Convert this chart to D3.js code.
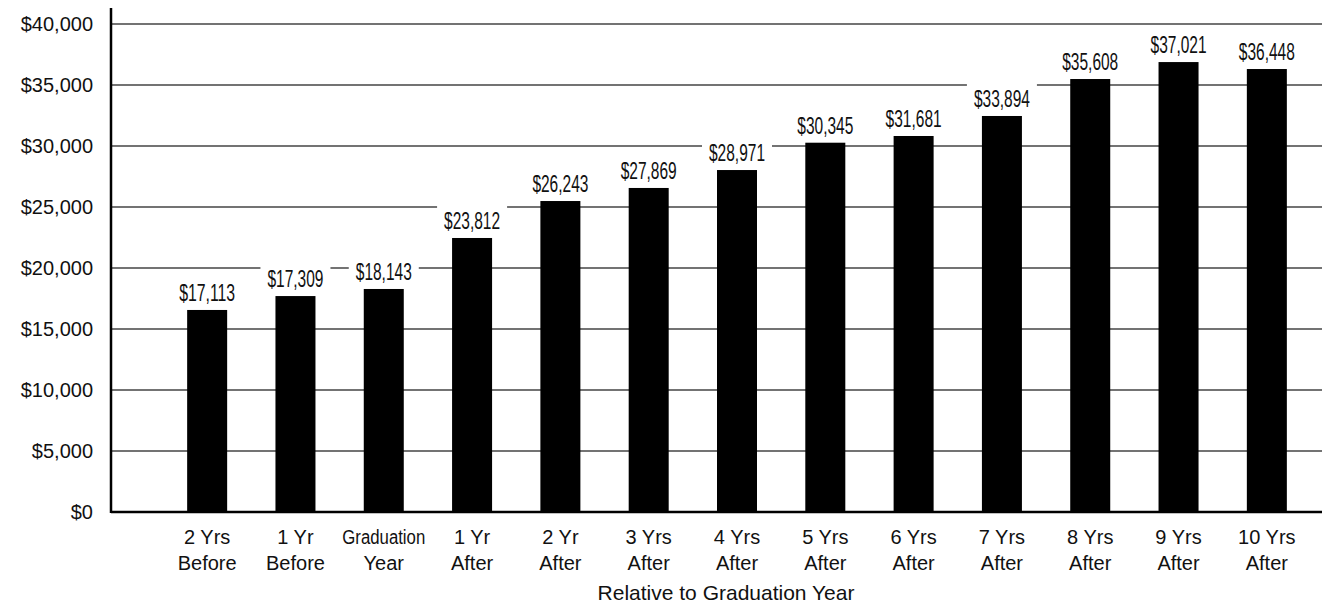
<!DOCTYPE html>
<html>
<head>
<meta charset="utf-8">
<script src="https://cdnjs.cloudflare.com/ajax/libs/d3/7.8.5/d3.min.js"></script>
<style>
  body { margin: 0; background: #fff; }
</style>
</head>
<body>
<div id="my_dataviz"></div>
<script>
// data
var categories = ["2 Yrs|Before", "1 Yr|Before", "Graduation|Year", "1 Yr|After", "2 Yr|After",
    "3 Yrs|After", "4 Yrs|After", "5 Yrs|After", "6 Yrs|After", "7 Yrs|After",
    "8 Yrs|After", "9 Yrs|After", "10 Yrs|After"];
// bar heights as drawn
var barValues = [16560, 17700, 18280, 22460, 25490, 26560, 28030, 30270, 30820, 32460, 35490, 36880, 36310];
// value labels as printed
var valueLabels = ["$17,113", "$17,309", "$18,143", "$23,812", "$26,243", "$27,869", "$28,971",
    "$30,345", "$31,681", "$33,894", "$35,608", "$37,021", "$36,448"];
var yTicks = [0, 5000, 10000, 15000, 20000, 25000, 30000, 35000, 40000];
var xTitle = "Relative to Graduation Year";

// plot edges (don't use "top", it's a window global)
var W = 1325, H = 605;
var plotLeft = 111, plotRight = 1322, plotTop = 24, plotBottom = 512;

var svg = d3.select("#my_dataviz")
    .append("svg")
    .attr("width", W)
    .attr("height", H);

// scales
var x = d3.scaleBand()
    .domain(categories)
    .range([163, 1311])
    .paddingInner(0.547)
    .paddingOuter(0.2735);

var y = d3.scaleLinear()
    .domain([0, 40000])
    .range([plotBottom, plotTop]);

var fmt = function(d) { return "$" + d3.format(",")(d); };

// gridlines
svg.append("g")
    .selectAll("line")
    .data(yTicks.filter(function(d) { return d > 0; }))
    .enter()
    .append("line")
    .attr("x1", plotLeft)
    .attr("x2", plotRight)
    .attr("y1", function(d) { return y(d); })
    .attr("y2", function(d) { return y(d); })
    .attr("stroke", "#444")
    .attr("stroke-width", 1.5);

// Y axis labels (domain line drawn separately)
var yAxis = svg.append("g")
    .attr("transform", "translate(" + plotLeft + ",0)")
    .call(d3.axisLeft(y).tickValues(yTicks).tickFormat(fmt).tickSize(0).tickPadding(18));
yAxis.select(".domain").remove();
yAxis.selectAll("text")
    .attr("font-family", "Liberation Sans, Arial, sans-serif")
    .attr("font-size", "20px")
    .attr("fill", "#111");

// bars
svg.append("g")
    .selectAll("rect")
    .data(barValues)
    .enter()
    .append("rect")
    .attr("x", function(d, i) { return x(categories[i]); })
    .attr("y", function(d) { return y(d); })
    .attr("width", x.bandwidth())
    .attr("height", function(d) { return y(0) - y(d) + 1; })
    .attr("fill", "#000");

// value labels with white background
var lab = svg.append("g")
    .selectAll("g")
    .data(barValues)
    .enter()
    .append("g")
    .attr("transform", function(d, i) {
        return "translate(" + (x(categories[i]) + x.bandwidth() / 2) + "," + (y(d) - 9) + ")";
    });
lab.append("rect")
    .attr("x", -35)
    .attr("y", -27)
    .attr("width", 70)
    .attr("height", 30)
    .attr("fill", "#fff");
lab.append("text")
    .attr("text-anchor", "middle")
    .attr("font-family", "Liberation Sans Narrow, Arial Narrow, sans-serif")
    .attr("font-size", "24px")
    .attr("textLength", 56)
    .attr("lengthAdjust", "spacingAndGlyphs")
    .attr("fill", "#111")
    .text(function(d, i) { return valueLabels[i]; });

// axis lines
svg.append("line")
    .attr("x1", plotLeft).attr("x2", plotLeft)
    .attr("y1", 8).attr("y2", plotBottom + 1)
    .attr("stroke", "#000").attr("stroke-width", 2.5);
svg.append("line")
    .attr("x1", plotLeft).attr("x2", plotRight)
    .attr("y1", plotBottom).attr("y2", plotBottom)
    .attr("stroke", "#000").attr("stroke-width", 2.5);

// X category labels, two lines each
var xl = svg.append("g")
    .selectAll("text")
    .data(categories)
    .enter()
    .append("text")
    .attr("text-anchor", "middle")
    .attr("font-family", "Liberation Sans, Arial, sans-serif")
    .attr("font-size", "20px")
    .attr("fill", "#111");
xl.each(function(d) {
    var parts = d.split("|");
    var t = d3.select(this);
    var cx = x(d) + x.bandwidth() / 2;
    parts.forEach(function(p, k) {
        var ts = t.append("tspan")
            .attr("x", cx)
            .attr("y", 543.5 + k * 26.5)
            .text(p);
        if (ts.node().getComputedTextLength() > 84) {
            ts.attr("textLength", 83).attr("lengthAdjust", "spacingAndGlyphs");
        }
    });
});

// X title
svg.append("text")
    .attr("x", 726)
    .attr("y", 600)
    .attr("text-anchor", "middle")
    .attr("font-family", "Liberation Sans, Arial, sans-serif")
    .attr("font-size", "21px")
    .attr("fill", "#111")
    .text(xTitle);
</script>
</body>
</html>
